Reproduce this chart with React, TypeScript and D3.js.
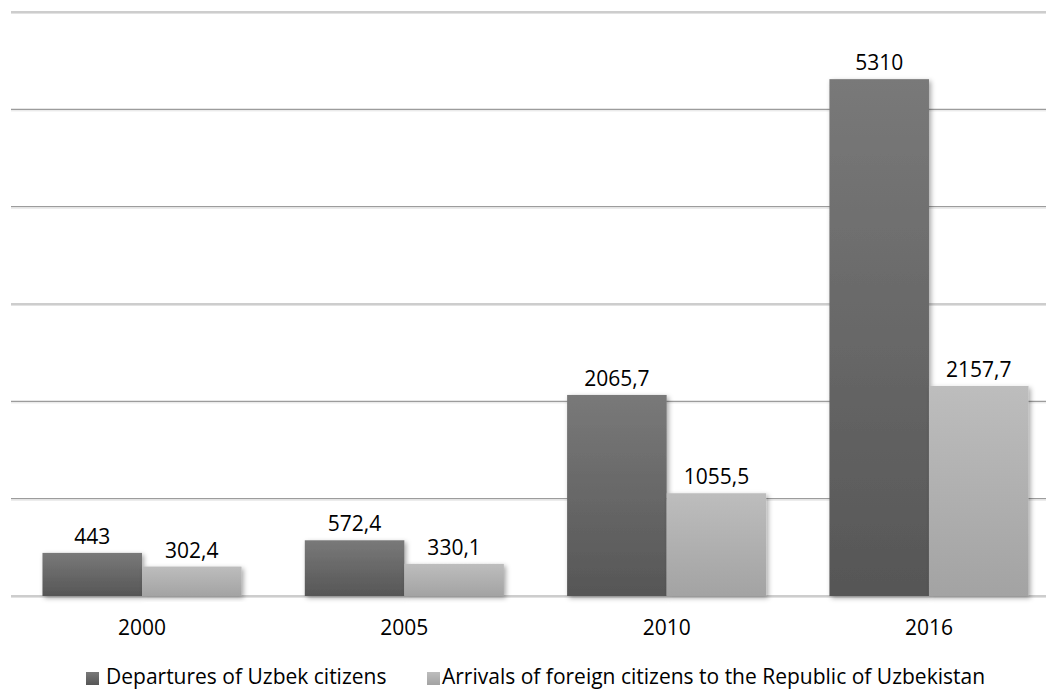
import React from 'react';
import * as d3 from 'd3';

const years = ['2000', '2005', '2010', '2016'];
const departures = [443, 572.4, 2065.7, 5310];
const arrivals = [302.4, 330.1, 1055.5, 2157.7];
const seriesNames = ['Departures of Uzbek citizens', 'Arrivals of foreign citizens to the Republic of Uzbekistan'];
const gridTicks = [0, 1000, 2000, 3000, 4000, 5000, 6000];

const W = 1046;
const H = 690;
const FONT = '"Open Sans", sans-serif';

const fmt = (v: number) => String(v).replace('.', ',');

const App: React.FC = () => {
  const x0 = d3.scaleBand<string>().domain(years).range([11, 1060]).paddingInner(0.241).paddingOuter(0.12);
  const x1 = d3.scaleBand<string>().domain(['dep', 'arr']).range([0, x0.bandwidth()]);
  const y = d3.scaleLinear().domain([0, 6000]).range([596, 12]);

  const series = [
    { key: 'dep', values: departures, fill: 'url(#gDark)' },
    { key: 'arr', values: arrivals, fill: 'url(#gLight)' },
  ];

  return (
    <svg width={W} height={H} style={{ display: 'block', position: 'absolute', left: 0, top: 0, background: '#fff' }}>
      <defs>
        <linearGradient id="gDark" x1="0" y1="0" x2="0" y2="1">
          <stop offset="0" stopColor="#797979" />
          <stop offset="1" stopColor="#565656" />
        </linearGradient>
        <linearGradient id="gLight" x1="0" y1="0" x2="0" y2="1">
          <stop offset="0" stopColor="#bdbdbd" />
          <stop offset="1" stopColor="#a3a3a3" />
        </linearGradient>
        <filter id="shadow" x="-10%" y="-10%" width="130%" height="130%">
          <feDropShadow dx="2" dy="2" stdDeviation="2.5" floodColor="#000" floodOpacity="0.35" />
        </filter>
      </defs>

      {/* gridlines */}
      {gridTicks.map(t => (
        <g key={t}>
          <line x1={11} x2={W} y1={y(t)} y2={y(t)} stroke="#9c9c9c" strokeWidth={1.2} />
          <line x1={11} x2={W} y1={y(t) + 1.5} y2={y(t) + 1.5} stroke="#e2e2e2" strokeWidth={1} />
        </g>
      ))}

      {/* bars */}
      {years.map((yr, i) => (
        <g key={yr} transform={`translate(${x0(yr)},0)`}>
          {series.map(s => (
            <rect
              key={s.key}
              x={x1(s.key)}
              y={y(s.values[i])}
              width={x1.bandwidth()}
              height={y(0) - y(s.values[i])}
              fill={s.fill}
              filter="url(#shadow)"
            />
          ))}
          {series.map(s => (
            <text
              key={s.key + 't'}
              x={(x1(s.key) as number) + x1.bandwidth() / 2}
              y={y(s.values[i]) - 9}
              textAnchor="middle"
              fontFamily={FONT}
              fontSize={21}
              fill="#000"
            >
              {fmt(s.values[i])}
            </text>
          ))}
          <text
            x={x0.bandwidth() / 2}
            y={635}
            textAnchor="middle"
            fontFamily={FONT}
            fontSize={21}
            fill="#000"
          >
            {yr}
          </text>
        </g>
      ))}

      {/* legend */}
      <g fontFamily={FONT} fontSize={21} fill="#000">
        <rect x={86} y={672} width={13} height={13} fill="url(#gDark)" />
        <text x={106} y={684}>{seriesNames[0]}</text>
        <rect x={427} y={672} width={13} height={13} fill="url(#gLight)" />
        <text x={442} y={684}>{seriesNames[1]}</text>
      </g>
    </svg>
  );
};

export default App;
